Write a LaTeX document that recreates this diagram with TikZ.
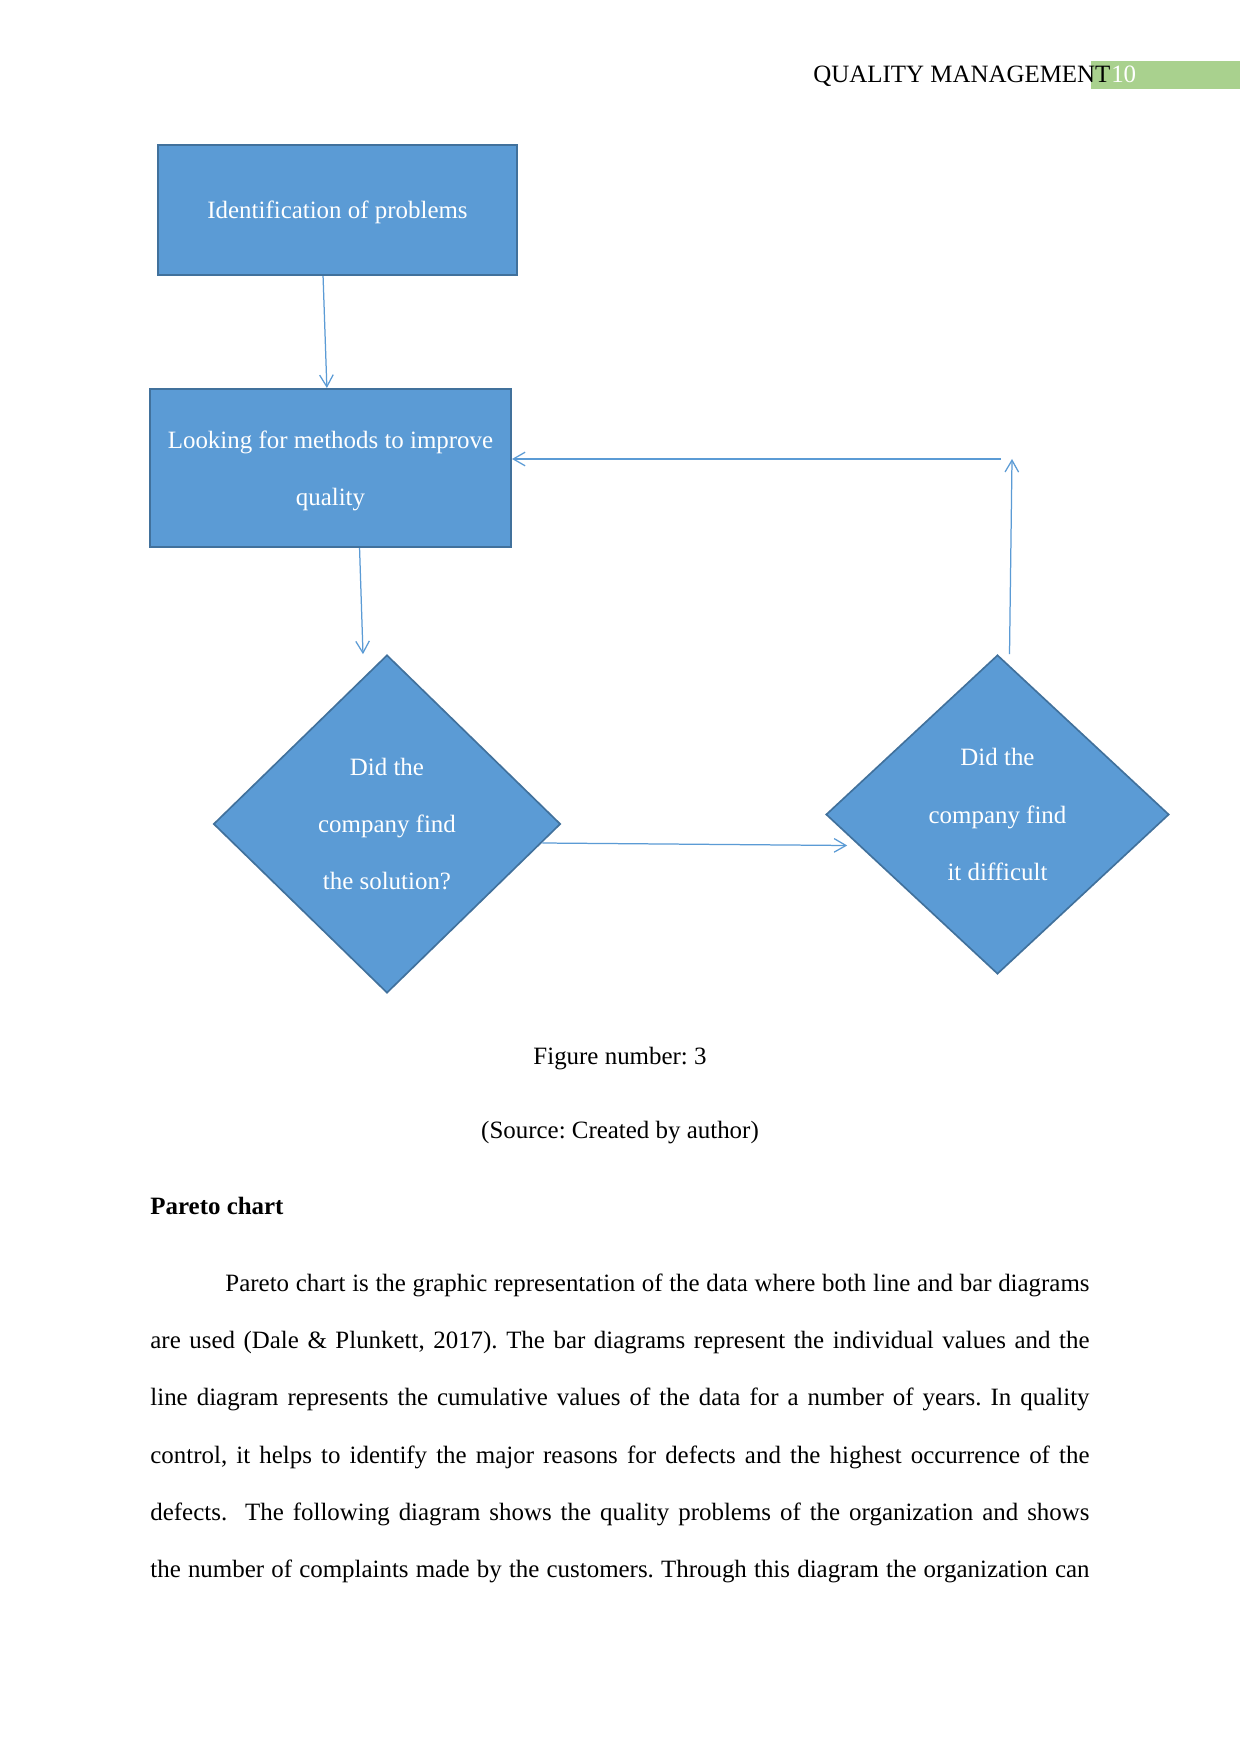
\documentclass[tikz,border=0pt]{standalone}
\usepackage{fontspec}
\setmainfont{Liberation Serif}
\usepackage{xcolor}
\usetikzlibrary{arrows.meta,positioning,shapes.geometric,calc}

\definecolor{boxblue}{HTML}{5B9BD5}
\definecolor{boxedge}{HTML}{41719C}
\definecolor{headgreen}{HTML}{A9D18E}
\frenchspacing

\begin{document}
\begin{tikzpicture}[
    x=0.1692mm, y=-0.1692mm,
    procbox/.style={draw=boxedge, line width=1pt, fill=boxblue, text=white, align=center, inner sep=0pt, font=\fontsize{12}{27.6}\selectfont},
    decision/.style={procbox, diamond, line width=0.8pt},
    arrow/.style={-{Straight Barb[length=2mm, width=2.3mm]}, draw=boxblue, line width=0.6pt},
    plain/.style={inner sep=0pt, font=\fontsize{12}{13.8}\selectfont}
]

\def\px{0.1692mm}
\fill[white] (0,0) rectangle (1241,1754);
\useasboundingbox (0,0) rectangle (1241,1754);

\fill[headgreen] (1091,61) rectangle (1240,89);
\node[plain, anchor=base west] (runhead) at (813,83) {QUALITY MANAGEMENT};
\node[plain, anchor=base west, text=white] (pagenum) at (runhead.base east) {10};

\node[procbox, minimum width=359*\px, minimum height=130*\px] (ident) at (337.5,210) {\rule{0pt}{11pt}Identification of problems};
\node[procbox, minimum width=361*\px, minimum height=158*\px] (looking) at (330.5,468) {\rule{0pt}{11pt}Looking for methods to improve\\quality};
\node[decision, minimum width=347*\px, minimum height=338*\px] (solved) at (387,824) {Did the\\company find\\the solution?};
\node[decision, minimum width=343*\px, minimum height=319*\px] (difficult) at (997.5,814.5) {Did the\\company find\\it difficult};

\coordinate (upturn) at (1012,459);
\coordinate (backturn) at (1001,459);

\draw[arrow] ($(ident.south west)!0.46!(ident.south east)$) -- ($(looking.north west)!0.49!(looking.north east)$);
\draw[arrow] ($(looking.south west)!0.58!(looking.south east)$) -- ($(solved.north)+(-24,0)$);
\draw[arrow] ($(solved.east)+(-19,19)$) -- ($(difficult.west)+(22,31)$);
\draw[arrow] ($(difficult.north)+(12,0)$) -- (upturn);
\draw[arrow] (backturn) -- ($(looking.east)+(0,-9)$);

\node[plain, anchor=base] (fignum) at (620,1064) {Figure number: 3};
\node[plain, anchor=base] (figsrc) at (620,1138) {(Source: Created by author)};
\node[plain, anchor=base west, font=\fontsize{12}{13.8}\selectfont\bfseries] (paretohead) at (150,1214) {Pareto chart};
\node[plain, anchor=base west, text width=158.9mm, align=justify, font=\fontsize{12}{27.6}\selectfont] (paretobody) at (150,1291) {\hspace*{12.7mm}Pareto chart is the graphic representation of the data where both line and bar diagrams\linebreak
are used (Dale \& Plunkett, 2017). The bar diagrams represent the individual values and the\linebreak
line diagram represents the cumulative values of the data for a number of years. In quality\linebreak
control, it helps to identify the major reasons for defects and the highest occurrence of the\linebreak
defects.\ \ The following diagram shows the quality problems of the organization and shows\linebreak
\hbox to\linewidth{the number of complaints made by the customers. Through this diagram the organization can}};
\end{tikzpicture}
\end{document}
